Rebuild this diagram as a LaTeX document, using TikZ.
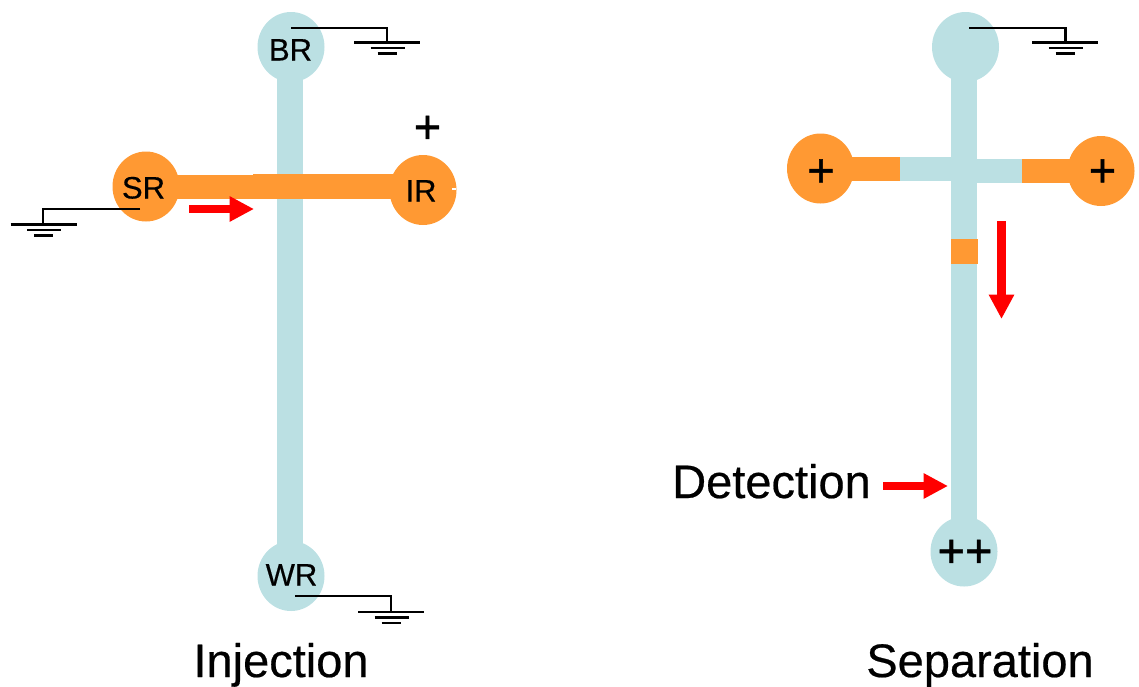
\documentclass[tikz,border=0pt]{standalone}
\usepackage{fontspec}
\setmainfont[FakeBold=0.45]{Liberation Sans}
\newfontfamily\plusfont[FakeBold=1.2]{Liberation Sans}
\usetikzlibrary{shapes.geometric,arrows.meta}
\definecolor{chan}{HTML}{BBE0E3}
\definecolor{samp}{HTML}{FF9933}
\tikzset{
  reservoir/.style={ellipse,minimum width=67pt,minimum height=70pt,inner sep=0pt,draw=none},
  bluer/.style={reservoir,fill=chan},
  oranger/.style={reservoir,fill=samp},
  bluechan/.style={draw=chan,line cap=butt},
  orangechan/.style={draw=samp,line cap=butt},
  wire/.style={draw=black,line width=2.2pt,line cap=butt,line join=miter},
  redarrow/.style={draw=red,fill=red,line width=8.5pt,-{Triangle[length=24.5pt,width=24pt]}},
  lab/.style={anchor=base,inner sep=0pt,text=black,font=\fontsize{31}{31}\selectfont},
  big/.style={anchor=base,inner sep=0pt,text=black,font=\fontsize{47}{47}\selectfont},
  plus/.style={anchor=base,inner sep=0pt,text=black,font=\plusfont\fontsize{47}{47}\selectfont}
}
\newcommand{\gndsym}[2]{%
  \draw[wire] (#1-33,#2) -- (#1+33,#2);
  \draw[wire] (#1-16.5,#2+5.5) -- (#1+17.5,#2+5.5);
  \draw[wire] (#1-9.5,#2+11) -- (#1+9.5,#2+11);
}
\begin{document}
\begin{tikzpicture}[x=1pt,y=-1pt]
\useasboundingbox (0,0) rectangle (1139,686);
% --- Injection ---
\coordinate (vt) at (290,47);
\coordinate (vb) at (290,576);
\draw[bluechan,line width=26pt] (vt) -- (vb);
\node[bluer] (BR) at (291,47) {};
\node[bluer] (WR) at (291,576) {};
\node[oranger] (SR) at (146,186.5) {};
\node[oranger] (IR) at (423,190) {};
\coordinate (a1) at (146,187);
\coordinate (a2) at (253,187);
\coordinate (a2b) at (253,186.5);
\coordinate (a3) at (423,186.5);
\draw[orangechan,line width=24pt] (a1) -- (a2);
\draw[orangechan,line width=25pt] (a2b) -- (a3);
\coordinate (w1) at (452,189);
\coordinate (w2) at (456,189);
\draw[draw=white,line width=1.2pt] (w1) -- (w2);
\node[lab] (tBR) at (290.5,60.5) {BR};
\node[lab] (tSR) at (143.5,198.5) {SR};
\node[lab] (tIR) at (421,201.5) {IR};
\node[lab] (tWR) at (291.5,585.5) {WR};
\node[plus] (pIR) at (427.5,143) {+};
\coordinate (ia1) at (189,209);
\coordinate (ia2) at (254,209);
\draw[redarrow] (ia1) -- (ia2);
% grounds
\coordinate (g1a) at (291,28); \coordinate (g1b) at (387,42.5);
\draw[wire] (g1a) -| (g1b);
\gndsym{387}{42.5}
\coordinate (g2a) at (140,209); \coordinate (g2b) at (43,224.5);
\draw[wire] (g2a) -| (g2b);
\gndsym{43.5}{224.5}
\coordinate (g3a) at (295,596); \coordinate (g3b) at (391,612);
\draw[wire] (g3a) -| (g3b);
\gndsym{391}{612}
\node[big] (tInj) at (281,677) {Injection};
% --- Separation ---
\coordinate (st) at (964,47);
\coordinate (sb) at (964,551);
\draw[bluechan,line width=26pt] (st) -- (sb);
\node[bluer] (top) at (965.5,47) {};
\node[bluer] (bot) at (964,551.5) {};
\node[oranger] (L) at (820.5,168.5) {};
\node[oranger] (R) at (1101,171) {};
\coordinate (l1) at (900,168.5);
\coordinate (l2) at (951,168.5);
\coordinate (r1) at (977,171);
\coordinate (r2) at (1022,171);
\draw[bluechan,line width=24pt] (l1) -- (l2);
\draw[bluechan,line width=24pt] (r1) -- (r2);
\draw[orangechan,line width=24pt] (L.center) -- (l1);
\draw[orangechan,line width=24pt] (r2) -- (R.center);
\coordinate (p1) at (951,251.5);
\coordinate (p2) at (978,251.5);
\draw[orangechan,line width=25pt] (p1) -- (p2);
\node[plus] (pL) at (821,186.5) {+};
\node[plus] (pR) at (1102.5,186.5) {+};
\node[plus] (pB) at (965,567) {++};
\coordinate (sa1) at (1001.5,221);
\coordinate (sa2) at (1001.5,319);
\draw[redarrow] (sa1) -- (sa2);
\coordinate (da1) at (883,486);
\coordinate (da2) at (948,486);
\draw[redarrow] (da1) -- (da2);
\coordinate (g4a) at (969,28); \coordinate (g4b) at (1065.5,42.5);
\draw[wire] (g4a) -| (g4b);
\gndsym{1065}{42.5}
\node[big] (tDet) at (771.5,498) {Detection};
\node[big] (tSep) at (980,677) {Separation};
\end{tikzpicture}
\end{document}
